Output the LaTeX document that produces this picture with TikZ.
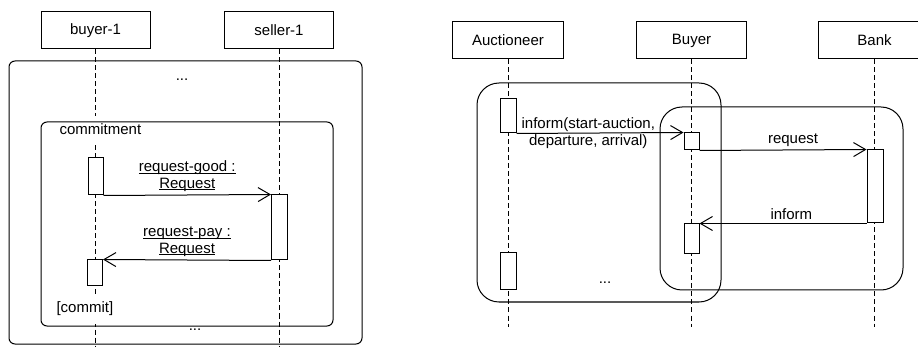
\documentclass[tikz,border=0pt]{standalone}
\usepackage{fontspec}
\setmainfont{Liberation Sans}
\usepackage{tikz}
\usetikzlibrary{positioning, arrows.meta, shapes}
\newcommand{\msgline}[1]{\setbox0\hbox{#1}\rlap{\rule[-1.6pt]{\wd0}{0.8pt}}\box0}

\begin{document}
\begin{tikzpicture}[x=1pt, y=-1pt, line width=1pt,
    every node/.style={font=\fontsize{15}{16.5}\selectfont},
    objbox/.style={draw, rectangle, inner sep=0pt, minimum width=109pt, minimum height=37pt},
    lifeline/.style={dash pattern=on 5pt off 3pt},
    actbox/.style={draw, rectangle, fill=white, inner sep=0pt, minimum width=15pt},
    msg/.style={-{Straight Barb[length=12pt, width=14pt]}},
    frame/.style={draw, rectangle, inner sep=0pt}]
    \useasboundingbox (0,0) rectangle (918,347);

    % Left: buyer and seller
    \node[objbox] (buyer1) at (95.5,30.5) {buyer-1};
    \node[objbox] (seller1) at (279,30.5) {seller-1};
    \coordinate (buyer1end) at (95.5,350);
    \coordinate (seller1end) at (279,350);
    \draw[lifeline] (buyer1) -- (buyer1end);
    \draw[lifeline] (seller1) -- (seller1end);

    % Labels that hide the lifeline
    \node[fill=white, anchor=west, inner xsep=1pt, inner ysep=7pt] (commitment) at (58,129) {commitment};
    \node[fill=white, anchor=west, inner xsep=1pt, inner ysep=8pt] (commit) at (55,309) {[commit]};

    % Frames
    \node[frame, rounded corners=6pt, minimum width=353pt, minimum height=283pt] (outer) at (185.5,202.5) {};
    \node[frame, rounded corners=6pt, minimum width=292pt, minimum height=204pt] (inner) at (187,224) {};
    \node (topdots) at (182,80) {...};
    \node (botdots) at (195,330) {...};

    % Activations
    \node[actbox, minimum height=37pt] (buyeract1) at (95.5,176.5) {};
    \node[actbox, minimum height=65pt, minimum width=16pt] (selleract1) at (279.5,227.5) {};
    \node[actbox, minimum height=26pt] (buyeract2) at (95,273) {};

    % Messages
    \draw[msg] (buyeract1.south east) -- node[above, align=center, inner sep=3pt]
        {\msgline{request-good :}\\\msgline{Request}} (selleract1.north west);
    \draw[msg] (selleract1.south west) -- node[above, align=center, inner sep=3pt]
        {\msgline{request-pay :}\\\msgline{Request}} (buyeract2.north east);

    % Right: auctioneer, buyer and bank
    \node[objbox, minimum width=111pt] (auctioneer) at (508,40.5) {Auctioneer};
    \node[objbox, minimum width=110pt] (buyer) at (691.5,40.5) {Buyer};
    \node[objbox, minimum width=112pt] (bank) at (874.5,40.5) {Bank};
    \coordinate (auctioneerend) at (508,327);
    \coordinate (buyerend) at (691.5,327);
    \coordinate (bankend) at (874.5,327);
    \draw[lifeline] (auctioneer) -- (auctioneerend);
    \draw[lifeline] (buyer) -- (buyerend);
    \draw[lifeline] (bank) -- (bankend);

    % Overlapping frames
    \node[frame, rounded corners=22pt, minimum width=244pt, minimum height=219pt] (auctionframe) at (599,192.5) {};
    \node[frame, rounded corners=22pt, minimum width=243pt, minimum height=183pt] (bankframe) at (781.5,198.5) {};
    \node (rightdots) at (605,283) {...};

    % Activations
    \node[actbox, minimum height=34pt, minimum width=16pt] (auctact1) at (508,116) {};
    \node[actbox, minimum height=37pt, minimum width=16pt] (auctact2) at (508,271.5) {};
    \node[actbox, minimum height=17pt] (buyeract3) at (691.5,141.5) {};
    \node[actbox, minimum height=30pt] (buyeract4) at (691.5,239) {};
    \node[actbox, minimum height=73pt, minimum width=16pt] (bankact1) at (875,186.5) {};

    % Messages
    \draw[msg] (auctact1.south east) -- node[pos=0.43, align=center, inner sep=0pt]
        {inform(start-auction,\\departure, arrival)} (buyeract3.north west);
    \draw[msg] (buyeract3.south east) -- node[pos=0.56, above, inner sep=3pt] {request} (bankact1.north west);
    \draw[msg] (bankact1.south west) -- node[pos=0.45, above, inner sep=3pt] {inform} (buyeract4.north east);
\end{tikzpicture}
\end{document}
